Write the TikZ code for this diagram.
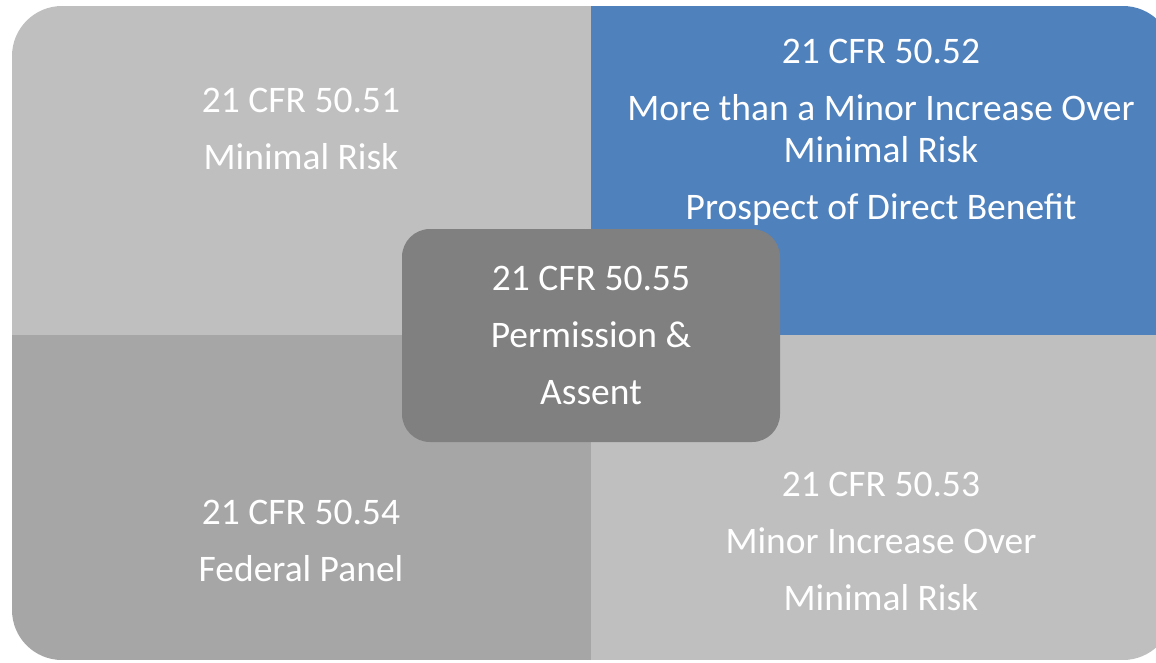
\documentclass[tikz,border=0pt]{standalone}
\usepackage{fontspec}
\setmainfont{Carlito}
\usetikzlibrary{positioning}
\definecolor{lightgrey}{HTML}{BFBFBF}
\definecolor{midgrey}{HTML}{A6A6A6}
\definecolor{darkgrey}{HTML}{808080}
\definecolor{riskblue}{HTML}{4F81BD}

\begin{document}
\begin{tikzpicture}[
x=1pt,y=-1pt,
quadtext/.style={
	text=white,
	align=center,
	inner sep=0pt,
	font=\fontsize{37.5}{57}\selectfont
},
centerbox/.style={
	quadtext,
	fill=darkgrey,
	rounded corners=28pt,
	minimum width=378pt,
	minimum height=213pt
}
]
\useasboundingbox (0,0) rectangle (1156,662);

% the four quadrants
\begin{scope}
\clip[rounded corners=50pt] (12,6) rectangle (1173,660);
\fill[lightgrey] (12,6) rectangle (591,335);
\fill[riskblue] (591,6) rectangle (1173,335);
\fill[midgrey] (12,335) rectangle (591,660);
\fill[lightgrey] (591,335) rectangle (1173,660);
\end{scope}

\node[quadtext] (minimal) at (301,129) {21 CFR 50.51\\Minimal Risk};
\node[quadtext] (benefit) at (881,132.5) {21 CFR 50.52\\More than a Minor Increase Over\\[-15pt]Minimal Risk\\Prospect of Direct Benefit};
\node[quadtext] (panel) at (301,541) {21 CFR 50.54\\Federal Panel};
\node[quadtext] (minor) at (881,541) {21 CFR 50.53\\Minor Increase Over\\Minimal Risk};

\node[centerbox] (assent) at (591,335.5) {21 CFR 50.55\\Permission \&\\Assent};
\end{tikzpicture}
\end{document}
